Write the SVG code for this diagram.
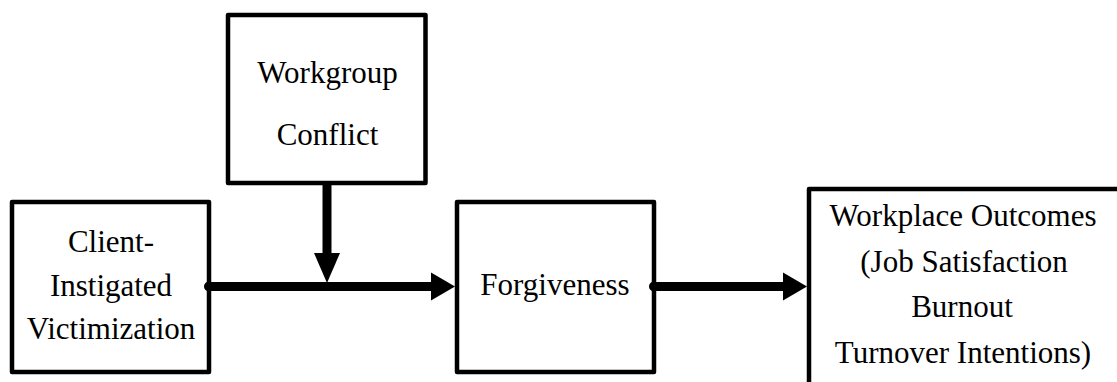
<svg xmlns="http://www.w3.org/2000/svg" width="1117" height="382" viewBox="0 0 1117 382">
<style>
.box{fill:#fff;stroke:#000;stroke-width:4.5;stroke-linejoin:round}
.lbl{font-family:"Liberation Serif","Times New Roman",serif;font-size:31px;fill:#000;text-anchor:middle}
.conn{stroke:#000;stroke-width:9;fill:none}
</style>
<defs>
<marker id="ah" markerUnits="userSpaceOnUse" markerWidth="26" markerHeight="30" refX="1" refY="14" orient="auto" overflow="visible">
<path d="M0,0 L24,14 L0,28 Z" fill="#000"/>
</marker>
<marker id="av" markerUnits="userSpaceOnUse" markerWidth="32" markerHeight="28" refX="1" refY="13" orient="auto" overflow="visible">
<path d="M0,0 L30,13 L0,26 Z" fill="#000"/>
</marker>
</defs>
<rect width="1117" height="382" fill="#fff"/>
<g id="node-client">
<rect class="box" x="12" y="202" width="197" height="170"/>
<text class="lbl" x="111" y="252">Client-</text>
<text class="lbl" x="111" y="295.5">Instigated</text>
<text class="lbl" x="111" y="339">Victimization</text>
</g>
<g id="node-workgroup">
<rect class="box" x="228" y="15" width="197.5" height="168"/>
<text class="lbl" x="327.5" y="83">Workgroup</text>
<text class="lbl" x="327.5" y="145">Conflict</text>
</g>
<g id="node-forgiveness">
<rect class="box" x="457" y="202" width="197" height="170"/>
<text class="lbl" x="555" y="295">Forgiveness</text>
</g>
<g id="node-outcomes">
<rect class="box" x="809" y="189" width="400" height="300"/>
<text class="lbl" x="963" y="226">Workplace Outcomes</text>
<text class="lbl" x="964" y="272">(Job Satisfaction</text>
<text class="lbl" x="962" y="317">Burnout</text>
<text class="lbl" x="963" y="363">Turnover Intentions)</text>
</g>
<g id="connectors">
<circle cx="209" cy="286.5" r="5"/>
<line class="conn" x1="209" y1="286.5" x2="432" y2="286.5" marker-end="url(#ah)"/>
<circle cx="654" cy="286.5" r="5"/>
<line class="conn" x1="654" y1="286.5" x2="784" y2="286.5" marker-end="url(#ah)"/>
<line class="conn" x1="327" y1="183" x2="327" y2="254" marker-end="url(#av)"/>
</g>
</svg>
